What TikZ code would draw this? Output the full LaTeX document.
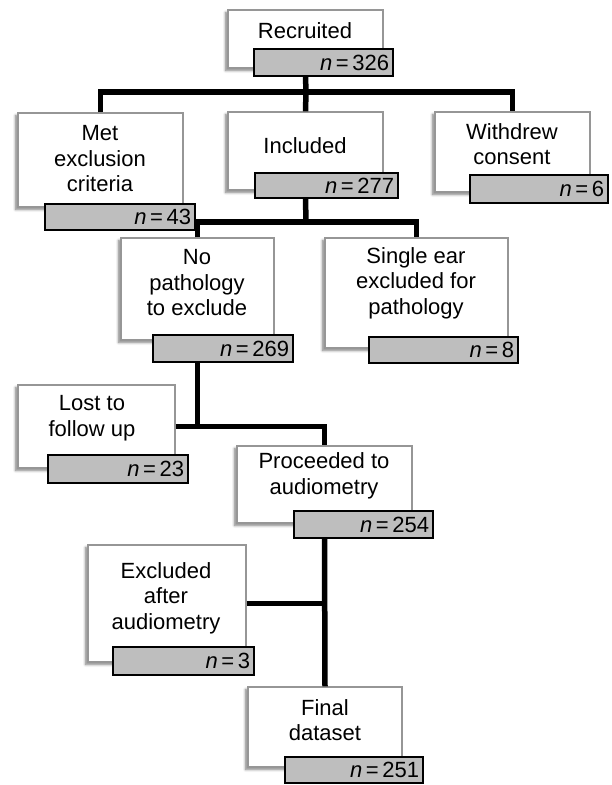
\documentclass[tikz,border=0pt]{standalone}
\usepackage{fontspec}
\setmainfont{Liberation Sans}
\usetikzlibrary{fit,shadows.blur}
\definecolor{barfill}{RGB}{190,190,190}
\definecolor{boxline}{RGB}{150,150,150}
\tikzset{
  wbox/.style={draw=boxline, line width=1.3pt, fill=white, inner sep=0pt,
    blur shadow={shadow xshift=-2.5pt, shadow yshift=-2.5pt, shadow blur steps=6, shadow blur radius=2.5pt, shadow opacity=50}},
  gbar/.style={draw=black, line width=2.8pt, fill=barfill, inner sep=0pt},
  txt/.style={inner sep=0pt, align=center, font=\fontsize{22}{25.5}\selectfont},
  ntxt/.style={inner sep=0pt, anchor=east, xshift=-5pt, font=\fontsize{22}{25.5}\selectfont},
  conn/.style={draw=black, line width=5.5pt, line join=miter}
}
\newcommand\nval[1]{\textit{n}\,=\,#1}
\begin{document}
\begin{tikzpicture}[x=1pt,y=-1pt]
\useasboundingbox (0,0) rectangle (612,785);
% white boxes
\node[wbox, fit={(228,10) (383,68)}] (rec) {};
\node[wbox, fit={(18,113) (183,207)}] (met) {};
\node[wbox, fit={(228,112) (383,190)}] (inc) {};
\node[wbox, fit={(435,112) (590,192)}] (wd) {};
\node[wbox, fit={(121,238) (274,340)}] (np) {};
\node[wbox, fit={(325,238) (508,348)}] (se) {};
\node[wbox, fit={(18,385) (175,468)}] (lost) {};
\node[wbox, fit={(237,446) (412,523)}] (proc) {};
\node[wbox, fit={(88,545) (246,662)}] (excl) {};
\node[wbox, fit={(248,687) (402,767)}] (fin) {};
% connectors
\coordinate (j1) at (306,92);
\coordinate (j2) at (306,222);
\draw[conn] (rec.center |- 0,76) -- (j1);
\draw[conn] (met.north) |- (j1) -| (wd.north);
\draw[conn] (j1) -- (inc.north);
\draw[conn] (inc.center |- 0,198) -- (j2);
\draw[conn] (np.north) |- (j2) -| (se.north);
\draw[conn] (np.center |- 0,362) -- (np.center |- lost.east);
\draw[conn] (lost.east) -| (proc.north);
\draw[conn] (proc.center |- 0,538) -- (fin.north);
\draw[conn] (excl.east) -- (proc.center |- excl.east);
% grey bars
\node[gbar, fit={(254,49) (393,76)}] (recb) {};
\node[gbar, fit={(45,204) (195,230)}] (metb) {};
\node[gbar, fit={(255,173) (398,198)}] (incb) {};
\node[gbar, fit={(470,175) (608,203)}] (wdb) {};
\node[gbar, fit={(153,335) (293,362)}] (npb) {};
\node[gbar, fit={(369,337) (518,363)}] (seb) {};
\node[gbar, fit={(48,455) (188,483)}] (lostb) {};
\node[gbar, fit={(294,511) (433,538)}] (procb) {};
\node[gbar, fit={(113,647) (254,675)}] (exclb) {};
\node[gbar, fit={(285,757) (423,783)}] (finb) {};
% texts
\node[txt] (rect) at (305,31) {Recruited};
\node[txt] (mett) at (100,159) {Met\\exclusion\\criteria};
\node[txt] (inct) at (305,146) {Included};
\node[txt] (wdt) at (512,144) {Withdrew\\consent};
\node[txt] (npt) at (197,283) {No\\pathology\\to exclude};
\node[txt] (set) at (416,283) {Single ear\\excluded for\\pathology};
\node[txt] (lostt) at (92,418) {Lost to\\follow up};
\node[txt] (proct) at (324,476) {Proceeded to\\audiometry};
\node[txt] (exclt) at (166,598) {Excluded\\after\\audiometry};
\node[txt] (fint) at (325,720) {Final\\dataset};
% n values
\node[ntxt] (recn) at (recb.east) {\nval{326}};
\node[ntxt] (metn) at (metb.east) {\nval{43}};
\node[ntxt] (incn) at (incb.east) {\nval{277}};
\node[ntxt] (wdn) at (wdb.east) {\nval{6}};
\node[ntxt] (npn) at (npb.east) {\nval{269}};
\node[ntxt] (sen) at (seb.east) {\nval{8}};
\node[ntxt] (lostn) at (lostb.east) {\nval{23}};
\node[ntxt] (procn) at (procb.east) {\nval{254}};
\node[ntxt] (excln) at (exclb.east) {\nval{3}};
\node[ntxt] (finn) at (finb.east) {\nval{251}};
\end{tikzpicture}
\end{document}
